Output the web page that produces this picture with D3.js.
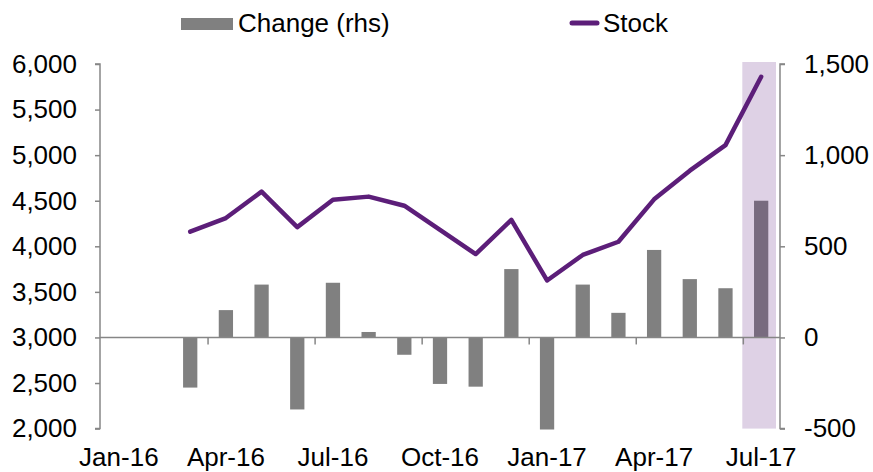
<!DOCTYPE html>
<html>
<head>
<meta charset="utf-8">
<script src="https://cdn.jsdelivr.net/npm/d3@7"></script>
<style>
  html, body { margin: 0; padding: 0; background: #fff; }
  svg { display: block; font-family: "Liberation Sans", Arial, sans-serif; }
</style>
</head>
<body>
<svg id="chart" width="873" height="472"></svg>
<script>
const months = ["Jan-16","Feb-16","Mar-16","Apr-16","May-16","Jun-16","Jul-16","Aug-16","Sep-16","Oct-16","Nov-16","Dec-16",
                "Jan-17","Feb-17","Mar-17","Apr-17","May-17","Jun-17","Jul-17"];
const stock  = [null, null, 4160, 4310, 4600, 4210, 4510, 4545, 4445, 4180, 3915, 4290,
                3625, 3905, 4050, 4515, 4830, 5110, 5860];
const change = [null, null, -275, 150, 290, -395, 300, 30, -95, -255, -270, 375,
                -505, 290, 135, 480, 320, 270, 750];
const xLabels = ["Jan-16","Apr-16","Jul-16","Oct-16","Jan-17","Apr-17","Jul-17"];
const tickBoundaries = ["Apr-16","Jul-16","Oct-16","Jan-17","Apr-17","Jul-17"];
const leftTicks = [2000,2500,3000,3500,4000,4500,5000,5500,6000];
const rightTicks = [-500,0,500,1000,1500];
const highlightMonth = "Jul-17";

(function () {
const svg = d3.select("#chart");
const pL = 101, pR = 779, pT = 64, pB = 428.6;
const axisColor = "#868686";
const barColor = "#808080";
const lineColor = "#5C1E79";
const fontSize = 26;
const ff = '"Liberation Sans", Arial, sans-serif';
const fmt = d3.formatLocale({decimal: ".", thousands: ",", grouping: [3], currency: ["", ""], minus: "-"}).format(",");

const x = d3.scaleBand().domain(months).range([pL, pR]).padding(0);
const xBar = d3.scaleBand().domain(months).range([pL, pR]).paddingInner(0.6).paddingOuter(0.3);
const yL = d3.scaleLinear().domain([2000, 6000]).range([pB, pT]);
const yR = d3.scaleLinear().domain([-500, 1500]).range([pB, pT]);

// bars
svg.append("g").selectAll("rect")
  .data(months.map((m, i) => ({m, v: change[i]})).filter(d => d.v !== null))
  .join("rect")
  .attr("x", d => xBar(d.m))
  .attr("width", xBar.bandwidth())
  .attr("y", d => yR(Math.max(0, d.v)))
  .attr("height", d => Math.abs(yR(d.v) - yR(0)))
  .attr("fill", barColor);

// highlight band
svg.append("rect")
  .attr("x", x(highlightMonth) - 1)
  .attr("width", x.bandwidth() - 2)
  .attr("y", pT - 2)
  .attr("height", pB - pT + 2)
  .attr("fill", "#5B1A7E")
  .attr("fill-opacity", 0.2);

// zero / category axis line
const y0 = yR(0);
svg.append("line")
  .attr("x1", pL - 1).attr("x2", pR + 1)
  .attr("y1", y0).attr("y2", y0)
  .attr("stroke", axisColor).attr("stroke-width", 1.5);
svg.append("g").selectAll("line")
  .data(tickBoundaries)
  .join("line")
  .attr("x1", d => x(d)).attr("x2", d => x(d))
  .attr("y1", y0).attr("y2", y0 + 7)
  .attr("stroke", axisColor).attr("stroke-width", 1.5);

// left axis
const gL = svg.append("g")
  .attr("transform", `translate(${pL - 1},0)`)
  .call(d3.axisLeft(yL).tickValues(leftTicks).tickSize(5).tickPadding(18).tickFormat(fmt));
gL.select(".domain").attr("d", `M-5,${pT}H0V${pB}H-5`);
// right axis
const gR = svg.append("g")
  .attr("transform", `translate(${pR + 1},0)`)
  .call(d3.axisRight(yR).tickValues(rightTicks).tickSize(5).tickPadding(19).tickFormat(fmt));
gR.select(".domain").attr("d", `M5,${pT}H0V${pB}H5`);
[gL, gR].forEach(g => {
  g.select(".domain").attr("stroke", axisColor).attr("stroke-width", 1.5);
  g.selectAll(".tick line").attr("stroke", axisColor).attr("stroke-width", 1.5);
  g.selectAll(".tick text").attr("fill", "#000").style("font-size", fontSize + "px")
    .style("font-family", ff);
});

// bottom labels
const gB = svg.append("g")
  .attr("transform", `translate(0,${pB})`)
  .call(d3.axisBottom(x).tickValues(xLabels).tickSize(0).tickPadding(19));
gB.select(".domain").remove();
gB.selectAll(".tick text").attr("fill", "#000").style("font-size", fontSize + "px")
  .style("font-family", ff);

// stock line
const line = d3.line()
  .defined(d => d.v !== null)
  .x(d => x(d.m) + x.bandwidth() / 2)
  .y(d => yL(d.v));
svg.append("path")
  .datum(months.map((m, i) => ({m, v: stock[i]})))
  .attr("d", line)
  .attr("fill", "none")
  .attr("stroke", lineColor)
  .attr("stroke-width", 4.5)
  .attr("stroke-linejoin", "round")
  .attr("stroke-linecap", "round");

// legend
const lg = svg.append("g");
lg.append("rect").attr("x", 181).attr("y", 18).attr("width", 52).attr("height", 12).attr("fill", barColor);
lg.append("text").attr("x", 238).attr("y", 32).text("Change (rhs)")
  .style("font-size", fontSize + "px").style("font-family", ff).attr("fill", "#000");
lg.append("line").attr("x1", 572).attr("x2", 597).attr("y1", 23).attr("y2", 23)
  .attr("stroke", lineColor).attr("stroke-width", 5).attr("stroke-linecap", "round");
lg.append("text").attr("x", 603).attr("y", 32).text("Stock")
  .style("font-size", fontSize + "px").style("font-family", ff).attr("fill", "#000");
})();
</script>
</body>
</html>
